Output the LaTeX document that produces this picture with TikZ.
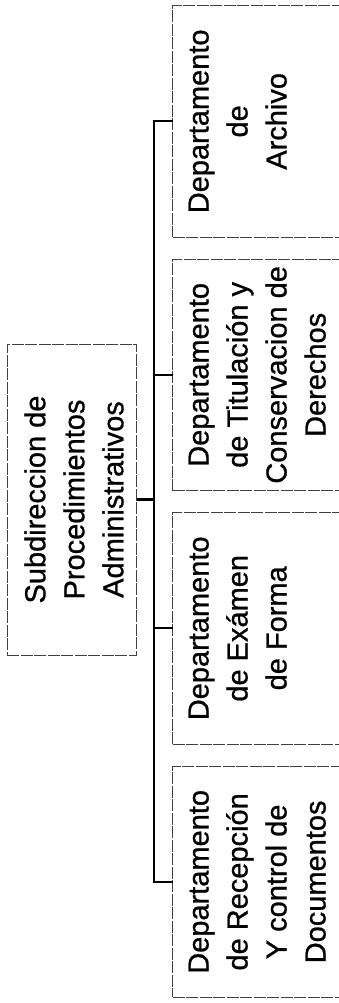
\documentclass[tikz,border=0pt]{standalone}
\usepackage{fontspec}
\setmainfont{Liberation Sans}
\newfontface\heavyface{Liberation Sans}[FakeBold=0.8]
\usepackage{graphicx}
\tikzset{
  box/.style={draw=black!75, line width=0.9pt, dash pattern=on 12pt off 1.5pt,
    rectangle, inner sep=0pt, outer sep=0pt},
  conn/.style={draw=black, line width=2.2pt},
  lbl/.style={inner sep=0pt, outer sep=0pt, anchor=west}
}
\newcommand{\rtext}[1]{\rotatebox{90}{\heavyface\fontsize{29}{39}\selectfont\begin{tabular}{@{}c@{}}#1\end{tabular}}}
\begin{document}
\begin{tikzpicture}[x=1pt, y=-1pt]
\clip (0,0) rectangle (339,1003);
\fill[white] (0,0) rectangle (339,1003);
% boxes
\node[box, minimum width=172.3pt, minimum height=231.3pt] (arch) at (258.85,121.35) {};
\node[box, minimum width=172.3pt, minimum height=231.7pt] (tit) at (258.85,374.85) {};
\node[box, minimum width=172.3pt, minimum height=232pt] (exa) at (258.85,628.3) {};
\node[box, minimum width=172.3pt, minimum height=230.3pt] (rec) at (258.85,881.85) {};
\node[box, minimum width=129.4pt, minimum height=311pt] (sub) at (72,499.5) {};
% texts
\node[lbl, xshift=8.5pt] (archt) at (arch.west) {\rtext{Departamento\\de\\Archivo}};
\node[lbl, xshift=8.5pt] (titt) at (tit.west) {\rtext{Departamento\\de Titulación y\\Conservacion de\\Derechos}};
\node[lbl, xshift=8.5pt] (exat) at (exa.west) {\rtext{Departamento\\de Exámen\\de Forma}};
\node[lbl, xshift=8.5pt] (rect) at (rec.west) {\rtext{Departamento\\de Recepción\\Y control de\\Documentos}};
\node[lbl, xshift=10.7pt] (subt) at (sub.west) {\rtext{Subdireccion de\\Procedimientos\\Administrativos}};
% connectors
\coordinate (bus) at (154.3,0);
\draw[conn] (arch.west) -- (arch.west -| bus) -- (rec.west -| bus) -- (rec.west);
\draw[conn] (tit.west) -- (tit.west -| bus);
\draw[conn] (exa.west) -- (exa.west -| bus);
\draw[conn] (sub.east) -- (sub.east -| bus);
\end{tikzpicture}
\end{document}
